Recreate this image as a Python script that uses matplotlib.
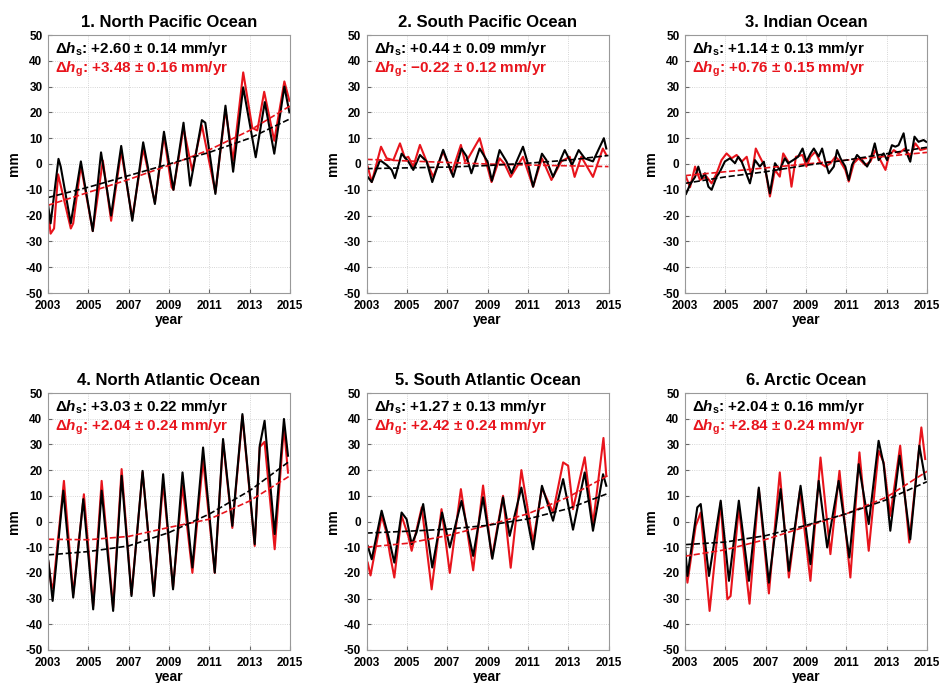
import numpy as np
import matplotlib
matplotlib.use('Agg')
import matplotlib.pyplot as plt

plt.rcParams['font.family'] = 'Liberation Sans'
plt.rcParams['mathtext.fontset'] = 'custom'
plt.rcParams['mathtext.rm'] = 'Liberation Sans:bold'
plt.rcParams['mathtext.it'] = 'Liberation Sans:bold:italic'
plt.rcParams['mathtext.bf'] = 'Liberation Sans:bold'
plt.rcParams['axes.unicode_minus'] = False

# tahun untuk garis tren (dashed)
trend_years = [2003, 2005, 2007, 2009, 2011, 2013, 2015]

# 1. North Pacific
t1_s = [2003.0, 2003.13, 2003.52, 2003.63, 2004.13, 2004.63, 2005.22, 2005.63, 2006.13, 2006.63,
        2007.18, 2007.72, 2008.3, 2008.75, 2009.22, 2009.72, 2010.05, 2010.63, 2010.8, 2011.3,
        2011.8, 2012.18, 2012.68, 2013.3, 2013.75, 2014.22, 2014.72, 2014.97]
h1_s = [-15.5, -23, 2, -1, -23, 1, -26, 4.5, -20, 7,
        -22, 8.4, -15.5, 12.5, -10, 16, -8.4, 17, 16, -11.6,
        22.6, -3, 29.7, 2.6, 24, 4, 30, 20]
t1_g = [2003.0, 2003.13, 2003.3, 2003.5, 2003.62, 2004.13, 2004.25, 2004.63, 2005.22, 2005.72,
        2006.13, 2006.63, 2007.18, 2007.72, 2008.3, 2008.75, 2009.13, 2009.22, 2009.72, 2010.15,
        2010.63, 2011.3, 2011.8, 2012.18, 2012.68, 2013.13, 2013.38, 2013.72, 2014.22, 2014.72, 2014.97]
h1_g = [-18, -27, -25, -4, -8, -25, -23, -0.6, -26, 1.3,
        -22, 5, -21, 6, -15, 11, -9, -10, 14, -2.6,
        15, -11, 21, 1.3, 35.5, 14, 13, 28, 9, 32, 24.5]
trend1_s = [-13, -9, -4.5, 0, 4.5, 10, 17.5]
trend1_g = [-16, -11, -6, -0.5, 5.5, 13, 22.5]

# 2. South Pacific
t2_s = [2003.06, 2003.26, 2003.67, 2004.0, 2004.25, 2004.41, 2004.74, 2005.07, 2005.32, 2005.65,
        2005.98, 2006.26, 2006.8, 2007.3, 2007.71, 2007.96, 2008.2, 2008.61, 2009.0, 2009.22,
        2009.6, 2009.94, 2010.19, 2010.76, 2011.01, 2011.26, 2011.7, 2011.92, 2012.25, 2012.83,
        2013.19, 2013.52, 2013.82, 2014.23, 2014.77, 2014.89]
h2_s = [-5, -7, 1.5, -0.4, -2.3, -5.5, 4, 1, -2.3, 3.5,
        1, -7, 5.5, -5, 6, 3, -3.6, 6, 1, -6.5,
        5.4, 1, -3.6, 6.7, 0, -8.8, 4, 1.5, -5, 5.4,
        -0.4, 5.4, 2.2, 1, 10, 6]
t2_g = [2003.06, 2003.26, 2003.72, 2004.0, 2004.33, 2004.66, 2004.91, 2005.07, 2005.32, 2005.65,
        2005.98, 2006.31, 2006.8, 2007.22, 2007.68, 2007.88, 2008.04, 2008.61, 2009.2, 2009.6,
        2009.85, 2010.15, 2010.76, 2011.26, 2011.7, 2012.17, 2012.66, 2013.08, 2013.32, 2013.65,
        2014.23, 2014.72, 2014.89]
h2_g = [-1, -7, 6.7, 2.2, 1.5, 8, 2.2, 2.8, -1, 7.4,
        1, -5, 4.8, -3.6, 7.4, 1, 2.2, 10, -7, 2.2,
        0, -5, 2.8, -8.8, 2.2, -6.2, 1, 2.8, -5, 2.8,
        -5, 6, 3.5]
trend2_s = [-1.8, -1.5, -1.2, -0.6, 0.3, 1.5, 3.3]
trend2_g = [1.8, 1.2, 0.6, 0, -0.4, -0.7, -1.0]

# 3. Indian
t3_s = [2003.05, 2003.25, 2003.5, 2003.66, 2003.83, 2003.99, 2004.16, 2004.32, 2004.57, 2004.73,
        2004.98, 2005.23, 2005.48, 2005.64, 2005.81, 2005.97, 2006.22, 2006.47, 2006.71, 2006.91,
        2007.21, 2007.46, 2007.7, 2007.95, 2008.12, 2008.36, 2008.61, 2008.83, 2009.02, 2009.22,
        2009.39, 2009.63, 2009.8, 2009.96, 2010.13, 2010.38, 2010.54, 2010.71, 2010.95, 2011.12,
        2011.28, 2011.53, 2011.78, 2012.03, 2012.19, 2012.41, 2012.6, 2012.85, 2013.02, 2013.26,
        2013.43, 2013.59, 2013.84, 2014.0, 2014.17, 2014.38, 2014.58, 2014.83, 2014.96]
h3_s = [-11.6, -8, -5, -1, -5.5, -3.6, -8.8, -10, -4.9, -3,
        1, 2.2, 0.3, 2.8, 0.9, -2.3, -7.5, 1.5, -1, 0.9,
        -11.4, 0.3, -2.3, 2.2, 0.3, 1.5, 2.8, 6, 0.9, 4,
        6, 2.9, 6, 0.9, -3.6, -1, 5.4, 2.2, -1, -6.2,
        -0.4, 3.5, 1.5, -1, 1.5, 8, 1.5, 4.1, 1.5, 7.3,
        6.7, 7.3, 11.9, 4.1, 0.9, 10.6, 8.6, 9.3, 8.6]
t3_g = [2003.05, 2003.25, 2003.5, 2003.74, 2004.07, 2004.32, 2004.57, 2004.81, 2005.06, 2005.31,
        2005.56, 2005.81, 2006.06, 2006.3, 2006.51, 2006.71, 2006.96, 2007.21, 2007.46, 2007.7,
        2007.87, 2008.12, 2008.28, 2008.5, 2008.83, 2009.02, 2009.22, 2009.47, 2009.72, 2009.96,
        2010.21, 2010.46, 2010.71, 2010.95, 2011.12, 2011.37, 2011.61, 2011.94, 2012.19, 2012.44,
        2012.69, 2012.94, 2013.1, 2013.35, 2013.59, 2013.92, 2014.17, 2014.42, 2014.67, 2014.96]
h3_g = [-5, -9, -1, -6.2, -4.9, -7.5, -3.6, 1.5, 4.1, 2.2,
        3.5, 0.9, 2.8, -4.9, 6, 2.8, -1, -12.6, -2.3, -4.9,
        4.1, 0.9, -8.8, 2.8, 3.5, -1, 2.8, 4.8, 0.3, -1,
        0.3, 2.8, 0.9, -2.3, -6.8, 0.3, 2.2, -0.4, 0.9, 5.4,
        1.5, -2.3, 2.8, 5.4, 4.1, 6, 2.8, 8, 5.4, 6]
trend3_s = [-7.5, -5, -3, -0.5, 1.5, 4, 6.5]
trend3_g = [-4.5, -3, -1.5, 0, 1.5, 3, 4.5]

# 4. North Atlantic
t4_s = [2003.02, 2003.23, 2003.76, 2004.25, 2004.75, 2005.24, 2005.66, 2006.23, 2006.65, 2007.14,
        2007.69, 2008.25, 2008.71, 2009.2, 2009.67, 2010.16, 2010.69, 2011.27, 2011.68, 2012.14,
        2012.64, 2013.25, 2013.5, 2013.74, 2014.24, 2014.7, 2014.9]
h4_s = [-15.3, -30.9, 12, -29.6, 8.7, -34.2, 12, -34.8, 17.8, -29,
        19.7, -29, 18.4, -26.4, 19.1, -17.9, 28.8, -19.9, 32.1, -1.7,
        41.8, -8.8, 29.5, 39.2, -4.9, 39.9, 25.6]
t4_g = [2003.02, 2003.15, 2003.25, 2003.79, 2004.25, 2004.78, 2005.24, 2005.66, 2006.23, 2006.65,
        2007.14, 2007.69, 2008.25, 2008.71, 2009.2, 2009.67, 2010.16, 2010.69, 2011.27, 2011.68,
        2012.14, 2012.64, 2013.25, 2013.5, 2013.74, 2014.24, 2014.7, 2014.9]
h4_g = [-16, -24, -26, 15.8, -28.3, 10.6, -32.9, 15.8, -33.5, 20.4,
        -28.3, 19.1, -28.3, 15.2, -25.7, 14, -20, 24, -20, 31,
        -2.5, 41, -9.5, 29, 31, -10.8, 37, 19]
trend4_s = [-13, -11.7, -9.5, -4.3, 2.9, 12, 23.6]
trend4_g = [-6.9, -7.1, -5.8, -2.3, 0.9, 8, 17.8]

# 5. South Atlantic
t5_s = [2003.06, 2003.26, 2003.75, 2004.08, 2004.38, 2004.74, 2004.99, 2005.24, 2005.48, 2005.81,
        2006.26, 2006.75, 2007.13, 2007.71, 2008.29, 2008.78, 2009.24, 2009.77, 2010.1, 2010.68,
        2011.26, 2011.7, 2012.25, 2012.75, 2013.24, 2013.82, 2014.23, 2014.73, 2014.89]
h5_s = [-9.5, -14.7, 4.2, -5.6, -16, 3.5, 0.9, -8.8, -4.3, 6.8,
        -17.9, 3.5, -10.1, 8, -13.4, 9.4, -14.5, 9.4, -5.6, 13.2,
        -10.8, 13.9, 0.3, 16.5, -3.2, 19.1, -3.6, 18.4, 13.9]
t5_g = [2003.06, 2003.2, 2003.75, 2003.99, 2004.16, 2004.38, 2004.74, 2005.07, 2005.24, 2005.74,
        2006.23, 2006.72, 2007.13, 2007.68, 2008.29, 2008.78, 2009.22, 2009.77, 2010.15, 2010.68,
        2011.26, 2011.7, 2012.25, 2012.75, 2013.0, 2013.24, 2013.82, 2014.23, 2014.75, 2014.89]
h5_g = [-16, -21, 2.2, -4.3, -12.7, -21.8, 2.2, -5.6, -11.4, 5.5,
        -26.4, 4.8, -20, 12.6, -19, 14, -14, 10, -18, 20,
        -8, 13, 3.5, 23, 21.7, 4.8, 25, -1, 32.5, 17.8]
trend5_s = [-4.5, -3.8, -3, -1.5, 1, 5, 11]
trend5_g = [-10, -8.5, -5.5, -1.5, 3, 9.5, 18]

# 6. Arctic
t6_s = [2003.0, 2003.12, 2003.61, 2003.78, 2004.19, 2004.77, 2005.18, 2005.67, 2006.17, 2006.66,
        2007.16, 2007.74, 2008.15, 2008.73, 2009.22, 2009.63, 2010.05, 2010.62, 2011.15, 2011.61,
        2012.11, 2012.6, 2012.85, 2013.18, 2013.64, 2014.17, 2014.62, 2014.91]
h6_s = [-9.5, -21.2, 5.5, 6.8, -21.2, 8.1, -23.1, 8.1, -23.1, 13.2,
        -23.8, 12.6, -19.2, 13.9, -16.6, 15.8, -10.1, 15.8, -14, 22.3,
        -1, 31.4, 22.3, -3.6, 25.6, -6.9, 29.5, 16.5]
t6_g = [2003.0, 2003.12, 2003.53, 2003.78, 2004.22, 2004.77, 2005.1, 2005.26, 2005.67, 2006.2,
        2006.66, 2007.16, 2007.7, 2008.15, 2008.7, 2009.22, 2009.72, 2010.21, 2010.66, 2011.2,
        2011.65, 2012.11, 2012.6, 2012.85, 2013.18, 2013.67, 2014.12, 2014.72, 2014.91]
h6_g = [-14.7, -23.8, -1.7, 3.5, -34.8, 7.4, -30.3, -29, 5.5, -32,
        12.6, -28, 19.1, -21.8, 12, -23.1, 24.9, -12.7, 19.7, -21.8,
        26.9, -11.4, 27.5, 23, 2.2, 29.5, -8.2, 36.6, 24.3]
trend6_s = [-9, -8, -5.5, -1.5, 3, 8.5, 15.5]
trend6_g = [-13.5, -11, -7, -2, 3, 9.5, 19.5]

titles = ['1. North Pacific Ocean', '2. South Pacific Ocean', '3. Indian Ocean',
          '4. North Atlantic Ocean', '5. South Atlantic Ocean', '6. Arctic Ocean']
rate_s = ['+2.60 ± 0.14', '+0.44 ± 0.09', '+1.14 ± 0.13',
          '+3.03 ± 0.22', '+1.27 ± 0.13', '+2.04 ± 0.16']
rate_g = ['+3.48 ± 0.16', '\u22120.22 ± 0.12', '+0.76 ± 0.15',
          '+2.04 ± 0.24', '+2.42 ± 0.24', '+2.84 ± 0.24']

series = [(t1_s, h1_s, t1_g, h1_g, trend1_s, trend1_g),
          (t2_s, h2_s, t2_g, h2_g, trend2_s, trend2_g),
          (t3_s, h3_s, t3_g, h3_g, trend3_s, trend3_g),
          (t4_s, h4_s, t4_g, h4_g, trend4_s, trend4_g),
          (t5_s, h5_s, t5_g, h5_g, trend5_s, trend5_g),
          (t6_s, h6_s, t6_g, h6_g, trend6_s, trend6_g)]

fig = plt.figure(figsize=(9.4, 6.83), dpi=100)
W, H = 940.0, 683.0
lefts = [48, 366.5, 685]
rows = [(35, 293), (393, 650)]

RED = '#e8141c'

for k in range(6):
    r, c = divmod(k, 3)
    top, bot = rows[r]
    ax = fig.add_axes([lefts[c] / W, 1 - bot / H, 242 / W, (bot - top) / H])
    ts, hs, tg, hg, trs, trg = series[k]

    ax.plot(tg, hg, color=RED, lw=1.5, solid_joinstyle='round')
    ax.plot(ts, hs, color='black', lw=1.5, solid_joinstyle='round')
    ax.plot(trend_years, trg, '--', color=RED, lw=1.2)
    ax.plot(trend_years, trs, '--', color='black', lw=1.2)

    ax.set_xlim(2003, 2015)
    ax.set_ylim(-50, 50)
    ax.set_xticks(range(2003, 2016, 2))
    ax.set_yticks(range(-50, 51, 10))
    ax.grid(True, color='#c8c8c8', ls=':', lw=0.6)
    ax.tick_params(direction='in', length=3, labelsize=8.5, color='#666666')
    ax.tick_params(axis='x', pad=5)
    ax.tick_params(axis='y', pad=4)
    for lab in ax.get_xticklabels() + ax.get_yticklabels():
        lab.set_fontweight('bold')
    for sp in ax.spines.values():
        sp.set_color('#999999')
        sp.set_linewidth(0.8)

    ax.set_title(titles[k], fontsize=12, fontweight='bold', pad=6)
    ax.set_xlabel('year', fontsize=10, fontweight='bold', labelpad=1)
    ax.set_ylabel('mm', fontsize=10, fontweight='bold', labelpad=3)

    ax.text(0.03, 0.945, r'$\Delta\mathit{h}_{\mathrm{s}}$: ' + rate_s[k] + ' mm/yr',
            transform=ax.transAxes, fontsize=11, fontweight='bold', color='black', va='center')
    ax.text(0.03, 0.868, r'$\Delta\mathit{h}_{\mathrm{g}}$: ' + rate_g[k] + ' mm/yr',
            transform=ax.transAxes, fontsize=11, fontweight='bold', color=RED, va='center')

fig.savefig('out.png', dpi=100)
